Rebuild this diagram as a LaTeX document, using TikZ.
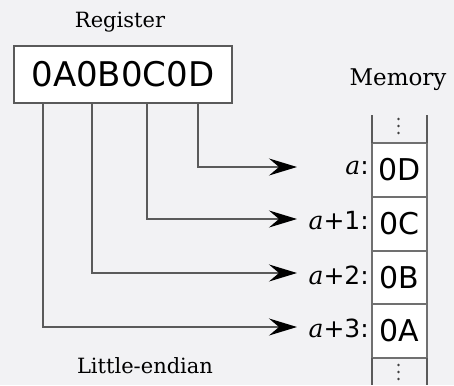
\documentclass[tikz,border=0pt]{standalone}
\usepackage{fontspec}
\setmainfont{DejaVu Serif}
\newfontfamily\hexfont{DejaVu Sans}
\usetikzlibrary{arrows.meta}
\definecolor{bg}{HTML}{F2F2F4}
\definecolor{wire}{HTML}{5A5A5A}
\definecolor{sep}{HTML}{707070}
\begin{document}
\begin{tikzpicture}[x=1pt,y=-1pt,
  title/.style={font=\fontsize{21}{24}\selectfont, inner sep=0pt},
  frame/.style={draw=wire, line width=2pt},
  cellbox/.style={draw=sep, line width=2pt, fill=white, minimum width=55pt, minimum height=54pt,
    inner sep=0pt, outer sep=0pt, font=\hexfont\fontsize{30}{32}\selectfont},
  addr/.style={anchor=east, inner sep=0pt, font=\hexfont\fontsize{25}{28}\selectfont},
  link/.style={draw=wire, line width=2pt,
    -{Stealth[length=28pt,width=17pt,inset=10pt,black]}},
  dot/.style={fill=black!75, draw=none}]
  % background and page size
  \fill[bg] (0,0) rectangle (454,385);
  \useasboundingbox (0,0) rectangle (454,385);

  % register
  \node[title] (regtitle) at (120,22) {Register};
  \node[frame, fill=white, minimum width=218pt, minimum height=57pt,
        inner sep=0pt, outer sep=0pt,
        font=\hexfont\fontsize{34}{36}\selectfont] (reg) at (123,74.5) {0A0B0C0D};

  % memory column
  \node[title, font=\fontsize{23}{26}\selectfont] (memtitle) at (398,80) {Memory};
  \node[cellbox] (m0) at (399.5,170) {0D};
  \node[cellbox] (m1) at (399.5,224) {0C};
  \node[cellbox] (m2) at (399.5,277.5) {0B};
  \node[cellbox] (m3) at (399.5,331) {0A};
  \coordinate (topL) at (372,115);
  \coordinate (topR) at (427,115);
  \coordinate (botL) at (372,385);
  \coordinate (botR) at (427,385);
  \draw[frame] (topL) -- (m0.north west);
  \draw[frame] (topR) -- (m0.north east);
  \draw[frame] (m3.south west) -- (botL);
  \draw[frame] (m3.south east) -- (botR);
  \foreach \y in {119,126,133,365,372,379}
    \fill[dot] (398.5,\y) circle (1.4pt);

  % addresses
  \node[addr] (a0) at (369,168) {\textit{\rmfamily a}:};
  \node[addr] (a1) at (369,221) {\textit{\rmfamily a}+1:};
  \node[addr] (a2) at (369,275) {\textit{\rmfamily a}+2:};
  \node[addr] (a3) at (369,328) {\textit{\rmfamily a}+3:};

  % byte wires, least significant byte to lowest address
  \coordinate (e0) at (297,167);
  \coordinate (e1) at (297,219);
  \coordinate (e2) at (297,273);
  \coordinate (e3) at (297,327);
  \draw[link] (reg.south -| 198,0) |- (e0);
  \draw[link] (reg.south -| 147,0) |- (e1);
  \draw[link] (reg.south -| 92,0) |- (e2);
  \draw[link] (reg.south -| 43,0) |- (e3);

  \node[title] (order) at (145,366) {Little-endian};
\end{tikzpicture}
\end{document}
